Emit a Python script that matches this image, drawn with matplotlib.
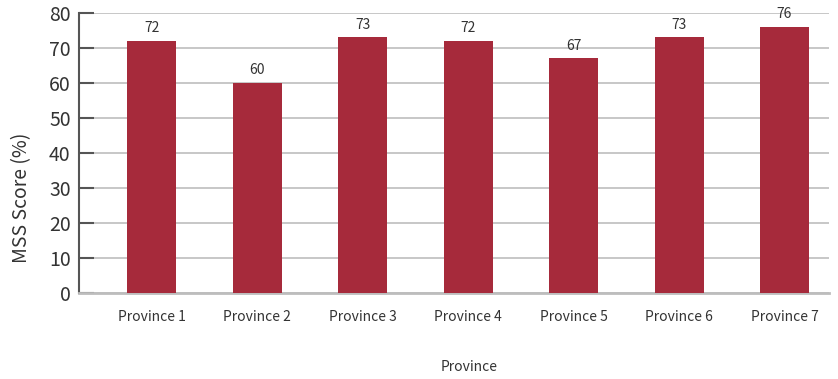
import numpy as np
import matplotlib
matplotlib.use("Agg")
import matplotlib.pyplot as plt

provinces = ["Province 1", "Province 2", "Province 3", "Province 4",
             "Province 5", "Province 6", "Province 7"]
scores = [72, 60, 73, 72, 67, 73, 76]
yticks = [0, 10, 20, 30, 40, 50, 60, 70, 80]

BAR   = "#A62A3B"
TEXT  = "#333333"
GRID  = "#BDBDBD"
SPINE = "#555555"

plt.rcParams["font.family"] = ["Noto Sans CJK KR", "DejaVu Sans"]

fig = plt.figure(figsize=(8.38, 3.79), dpi=100)
ax = fig.add_axes([0.0943, 0.227, 0.8947, 0.739])

x = np.arange(len(provinces))
ax.bar(x, scores, width=0.465, color=BAR, zorder=3)
for xi, v in zip(x, scores):
    ax.annotate(f"{v}", (xi, v), xytext=(0, 4), textcoords="offset points",
                ha="center", va="bottom", fontsize=10, color=TEXT)

ax.set_xlim(-0.69, 6.42)
ax.set_ylim(0, 80)
ax.set_yticks(yticks)
ax.set_xticks(x)
ax.set_xticklabels(provinces, fontsize=10, color=TEXT)
ax.tick_params(axis="y", direction="in", length=11, width=1.5, color=SPINE,
               labelsize=14, labelcolor=TEXT, pad=6)
ax.tick_params(axis="x", length=0, pad=12)

ax.yaxis.grid(True, color=GRID, lw=1.2, zorder=0)
ax.set_axisbelow(True)

for s in ["top", "right"]:
    ax.spines[s].set_visible(False)
ax.spines["left"].set_color(SPINE)
ax.spines["left"].set_linewidth(1.5)
ax.spines["bottom"].set_color(GRID)
ax.spines["bottom"].set_linewidth(2)

ax.set_ylabel("MSS Score (%)", fontsize=14, color=TEXT)
ax.yaxis.set_label_coords(-0.062, 0.34)
ax.set_xlabel("Province", fontsize=10, color=TEXT)
ax.xaxis.set_label_coords(0.52, -0.24)

fig.savefig("out.png", dpi=100)
